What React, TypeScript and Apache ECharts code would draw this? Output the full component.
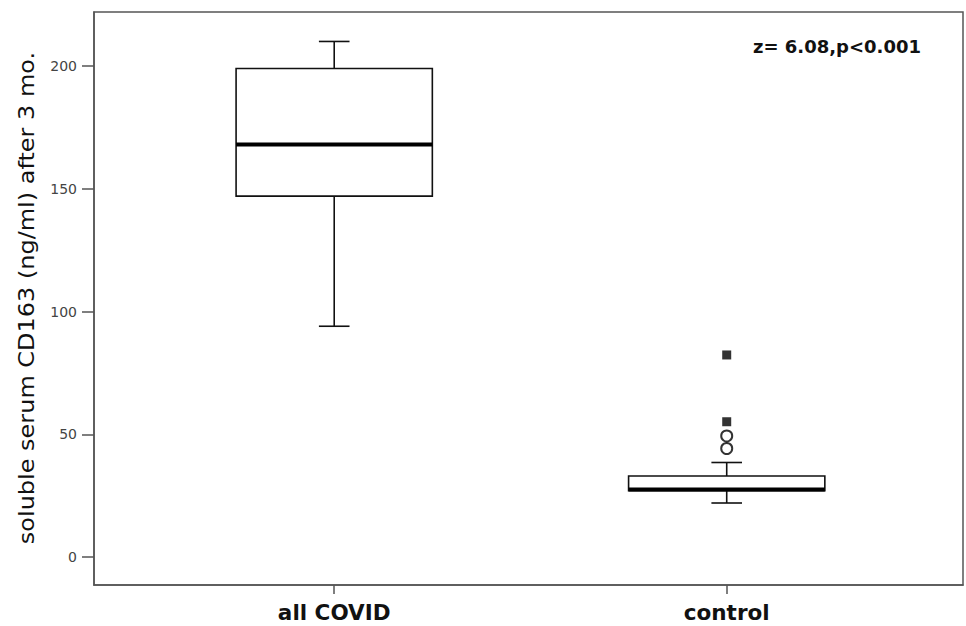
import React, { useEffect, useRef } from "react";
import * as echarts from "echarts";

const categories = ["all COVID", "control"];
const boxMin = [94, 22];
const boxQ1 = [147, 27];
const boxMedian = [168, 27.5];
const boxQ3 = [199, 33];
const boxMax = [210, 38.5];
// control group: extreme values (filled squares) and outliers (open circles)
const controlExtremes = [82.3, 55.1];
const controlOutliers = [49.3, 44.2];
const yTicks = [0, 50, 100, 150, 200];
const xTicks = [0, 1];
const annotation = "z= 6.08,p<0.001";
const yTitle = "soluble serum CD163 (ng/ml) after 3 mo.";

const FONT = "'DejaVu Sans', 'Liberation Sans', Arial, sans-serif";

export default function App() {
  const ref = useRef<HTMLDivElement>(null);

  useEffect(() => {
    document.body.style.margin = "0";
    if (!ref.current) return;
    const chart = echarts.init(ref.current, null, { renderer: "svg" });

    const boxData = categories.map((_, i) => [
      i,
      boxMin[i],
      boxQ1[i],
      boxMedian[i],
      boxQ3[i],
      boxMax[i],
    ]);

    const stroke = "#111";

    chart.setOption({
      animation: false,
      backgroundColor: "#fff",
      grid: {
        left: 94,
        right: 3,
        top: 12,
        bottom: 41,
        show: true,
        borderColor: "#555",
        borderWidth: 1.5,
        backgroundColor: "#fff",
      },
      xAxis: {
        type: "value",
        min: -0.612,
        max: 1.602,
        splitLine: { show: false },
        axisLine: { show: true, onZero: false, lineStyle: { color: "#555", width: 1.5 } },
        axisTick: {
          show: true,
          customValues: xTicks,
          length: 9,
          lineStyle: { color: "#555", width: 1.5 },
        },
        axisLabel: {
          customValues: xTicks,
          formatter: (v: number) => categories[Math.round(v)] ?? "",
          fontFamily: FONT,
          fontWeight: "bold",
          fontSize: 21.5,
          color: "#111",
          margin: 16,
        },
      },
      yAxis: {
        type: "value",
        min: -11.4,
        max: 222,
        splitLine: { show: false },
        axisLine: { show: true, onZero: false, lineStyle: { color: "#555", width: 1.5 } },
        axisTick: {
          show: true,
          customValues: yTicks,
          length: 12,
          lineStyle: { color: "#555", width: 1.5 },
        },
        axisLabel: {
          customValues: yTicks,
          fontFamily: FONT,
          fontSize: 14,
          color: "#444",
          margin: 17,
        },
      },
      graphic: [
        {
          type: "text",
          x: 26,
          y: 298,
          rotation: Math.PI / 2,
          scaleX: 1.09,
          style: {
            text: yTitle,
            fontFamily: FONT,
            fontSize: 22,
            fill: "#111",
            textAlign: "center",
            textVerticalAlign: "middle",
          },
        },
        {
          type: "text",
          x: 753,
          y: 46.5,
          style: {
            text: annotation,
            fontFamily: FONT,
            fontWeight: "bold",
            fontSize: 18,
            fill: "#111",
            textAlign: "left",
            textVerticalAlign: "middle",
          },
        },
      ],
      series: [
        {
          type: "custom",
          data: boxData,
          encode: { x: 0, y: [1, 2, 3, 4, 5] },
          renderItem: (params: any, api: any) => {
            const x = api.value(0);
            const pMin = api.coord([x, api.value(1)]);
            const pQ1 = api.coord([x, api.value(2)]);
            const pMed = api.coord([x, api.value(3)]);
            const pQ3 = api.coord([x, api.value(4)]);
            const pMax = api.coord([x, api.value(5)]);
            const cx = pMin[0];
            const halfW = api.size([0.5, 0])[0] / 2;
            const capHalf = api.size([0.078, 0])[0] / 2;
            const ls = { stroke, lineWidth: 1.6 };
            return {
              type: "group",
              children: [
                { type: "line", shape: { x1: cx, y1: pMax[1], x2: cx, y2: pQ3[1] }, style: ls },
                { type: "line", shape: { x1: cx, y1: pQ1[1], x2: cx, y2: pMin[1] }, style: ls },
                { type: "line", shape: { x1: cx - capHalf, y1: pMax[1], x2: cx + capHalf, y2: pMax[1] }, style: ls },
                { type: "line", shape: { x1: cx - capHalf, y1: pMin[1], x2: cx + capHalf, y2: pMin[1] }, style: ls },
                {
                  type: "rect",
                  shape: { x: cx - halfW, y: pQ3[1], width: halfW * 2, height: pQ1[1] - pQ3[1] },
                  style: { fill: "#fff", stroke, lineWidth: 1.6 },
                },
                {
                  type: "line",
                  shape: { x1: cx - halfW, y1: pMed[1], x2: cx + halfW, y2: pMed[1] },
                  style: { stroke: "#000", lineWidth: 4 },
                },
              ],
            };
          },
        },
        {
          type: "scatter",
          data: controlExtremes.map((v) => [1, v]),
          symbol: "rect",
          symbolSize: 9,
          itemStyle: { color: "#000" },
        },
        {
          type: "scatter",
          data: controlOutliers.map((v) => [1, v]),
          symbol: "circle",
          symbolSize: 11,
          itemStyle: { color: "#fff", borderColor: "#000", borderWidth: 2 },
        },
      ],
    });

    return () => chart.dispose();
  }, []);

  return (
    <div
      ref={ref}
      style={{ width: 966, height: 626, position: "absolute", left: 0, top: 0 }}
    />
  );
}
